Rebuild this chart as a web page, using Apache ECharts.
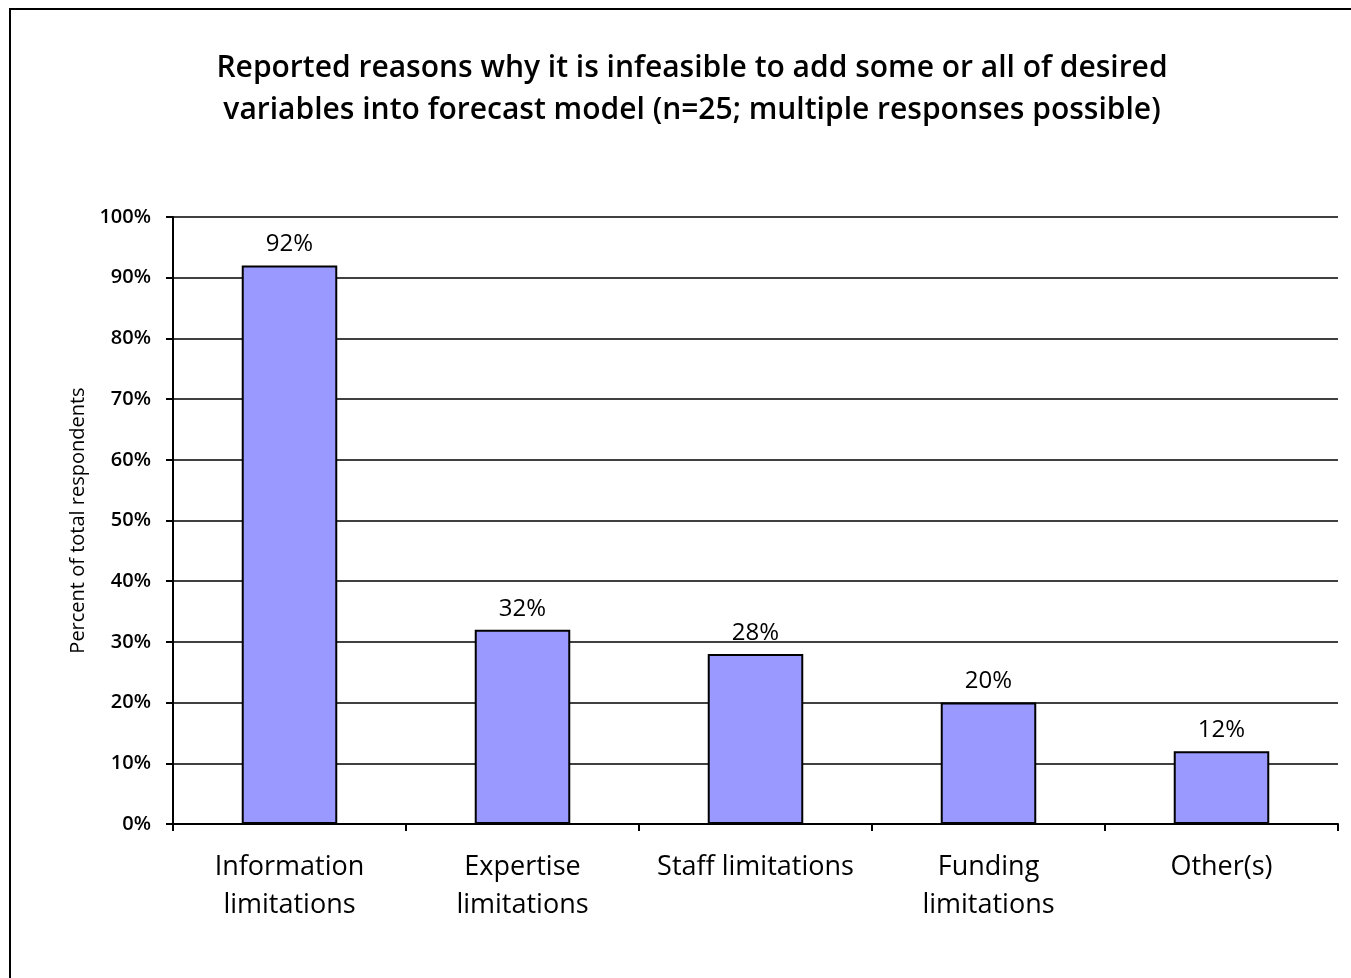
<!DOCTYPE html>
<html>
<head>
<meta charset="utf-8">
<script src="https://cdn.jsdelivr.net/npm/echarts@6/dist/echarts.min.js"></script>
<style>
  html, body { margin: 0; padding: 0; background: #fff; }
  #chart { width: 1351px; height: 978px; }
</style>
</head>
<body>
<div id="chart"></div>
<script>
// Reasons reported for not adding desired variables to the forecast model
const categories = [
  'Information\nlimitations',
  'Expertise\nlimitations',
  'Staff limitations',
  'Funding\nlimitations',
  'Other(s)'
];
const percentValues = [92, 32, 28, 20, 12];
const yTickStep = 10;

const chart = echarts.init(document.getElementById('chart'), null, { renderer: 'canvas' });

const textFont = '"Open Sans", Lato, sans-serif';

chart.setOption({
  backgroundColor: '#ffffff',
  animation: false,
  title: {
    text: 'Reported reasons why it is infeasible to add some or all of desired\nvariables into forecast model (n=25; multiple responses possible)',
    left: 687,
    top: 42,
    textAlign: 'center',
    textStyle: {
      fontFamily: textFont,
      fontSize: 30,
      fontWeight: 600,
      color: '#000',
      lineHeight: 42
    }
  },
  graphic: [{
    type: 'polyline',
    shape: { points: [[10, 978], [10, 9], [1351, 9]] },
    style: { stroke: '#000', lineWidth: 2, fill: null }
  }],
  grid: {
    left: 173,
    right: 13,
    top: 217,
    bottom: 154,
    containLabel: false
  },
  xAxis: {
    type: 'category',
    data: categories,
    axisLine: { lineStyle: { color: '#000', width: 2 } },
    axisTick: { show: true, length: 7, lineStyle: { color: '#000', width: 2 } },
    axisLabel: {
      color: '#000',
      fontFamily: textFont,
      fontWeight: 500,
      fontSize: 27,
      lineHeight: 38,
      margin: 24,
      interval: 0
    }
  },
  yAxis: {
    type: 'value',
    min: 0,
    max: 100,
    interval: yTickStep,
    name: 'Percent of total respondents',
    nameLocation: 'middle',
    nameRotate: 90,
    nameGap: 73,
    nameTextStyle: {
      color: '#000',
      fontFamily: textFont,
      fontSize: 20
    },
    axisLine: { show: true, lineStyle: { color: '#000', width: 2 } },
    axisTick: { show: true, length: 7, lineStyle: { color: '#000', width: 2 } },
    axisLabel: {
      color: '#000',
      fontFamily: textFont,
      fontWeight: 600,
      fontSize: 20,
      margin: 22,
      formatter: '{value}%'
    },
    splitLine: { show: true, lineStyle: { color: '#000', width: 1.5 } }
  },
  series: [{
    type: 'bar',
    data: percentValues,
    barWidth: '41%',
    itemStyle: {
      color: '#9999ff',
      borderColor: '#000',
      borderWidth: 2
    },
    label: {
      show: true,
      position: 'top',
      distance: 9,
      formatter: '{c}%',
      color: '#000',
      fontFamily: textFont,
      fontWeight: 500,
      fontSize: 24
    }
  }]
});
</script>
</body>
</html>
